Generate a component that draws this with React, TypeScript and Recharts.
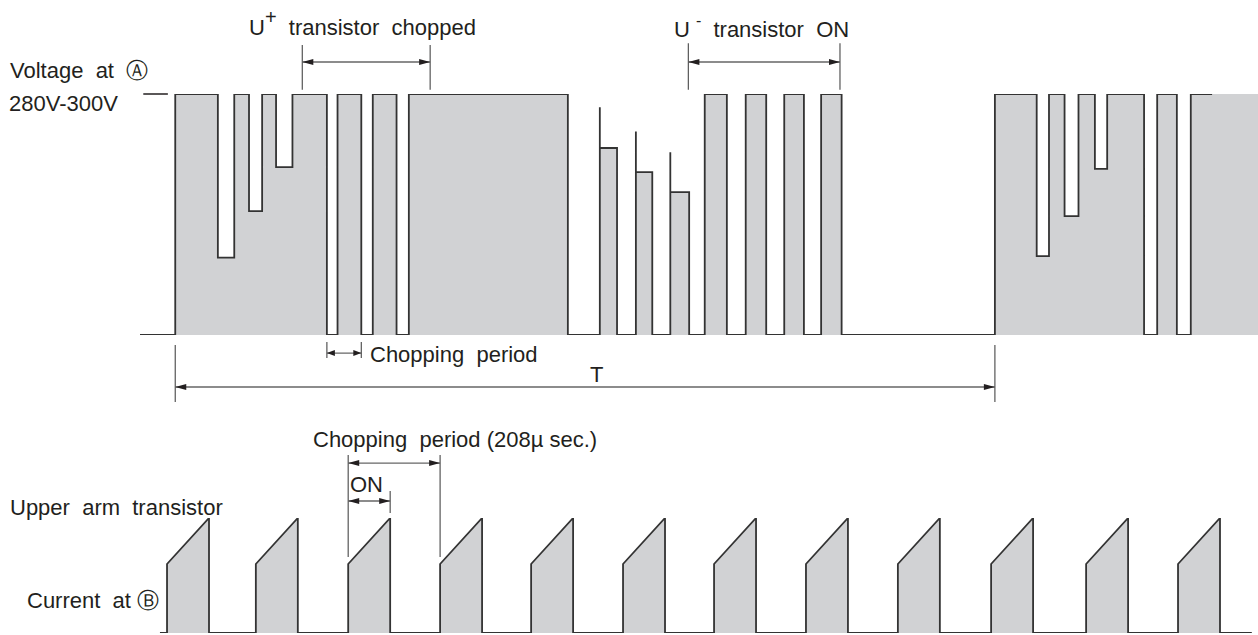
import { Area, ComposedChart, Line, ReferenceLine, XAxis, YAxis } from "recharts";

// voltage at A: time in % of period T, level in volts
const stepStart = [-4.3, 0, 5.2, 7.2, 9.0, 10.6, 12.3, 14.3, 18.5, 19.8, 22.7, 24.1, 27.0, 28.5, 47.9, 51.8, 53.9, 56.2, 58.2, 60.4, 62.7, 64.6, 67.3, 69.6, 72.1, 74.3, 76.7, 78.8, 81.3, 100, 105.1, 106.6, 108.5, 110.2, 112.2, 113.7, 118.2, 119.8, 122.2, 123.9];
const stepLevel = [0, 290, 93, 290, 149, 290, 202, 290, 0, 290, 0, 290, 0, 290, 0, 225, 0, 196, 0, 172, 0, 290, 0, 290, 0, 290, 0, 290, 0, 290, 95, 290, 143, 290, 200, 290, 0, 290, 0, 290];
const spikeTimes = [51.8, 56.2, 60.4];
const spikeLevels = [274, 245, 220];
const lineEnd = 126.5;
const fillEnd = 132.1;

// current at B: time in micro seconds, current relative to peak
const pulseStarts = [0, 201, 410, 618, 824, 1032, 1238, 1446, 1654, 1865, 2080, 2288];
const onTime = 95;
const rampStart = 0.6;
const rampPeak = 1;
const baseStart = -16;
const baseEnd = 2455;

const font = "'Liberation Sans', Arial, sans-serif";
const ink = "#231f20";
const wave = "#333";
const gray = "#d1d2d4";

function voltagePoints(end: number) {
  const pts: { t: number; v: number }[] = [];
  stepStart.forEach((t, i) => {
    if (i > 0) pts.push({ t, v: stepLevel[i - 1] });
    const s = spikeTimes.indexOf(t);
    if (s >= 0) pts.push({ t, v: spikeLevels[s] });
    pts.push({ t, v: stepLevel[i] });
  });
  pts.push({ t: end, v: stepLevel[stepLevel.length - 1] });
  return pts;
}

function currentPoints() {
  const pts: { t: number; i: number }[] = [{ t: baseStart, i: 0 }];
  pulseStarts.forEach((s) => {
    pts.push({ t: s, i: 0 }, { t: s, i: rampStart }, { t: s + onTime, i: rampPeak }, { t: s + onTime, i: 0 });
  });
  pts.push({ t: baseEnd, i: 0 });
  return pts;
}

const dimArrow = (head: number) => (props: any) => {
  const { x1, y1, x2, y2 } = props;
  const a = Math.min(x1, x2);
  const b = Math.max(x1, x2);
  return (
    <g>
      <line x1={a} y1={y1} x2={b} y2={y2} stroke="#666" strokeWidth={1.3} />
      <polygon points={`${a},${y1} ${a + head},${y1 - 3} ${a + head},${y1 + 3}`} fill={ink} />
      <polygon points={`${b},${y2} ${b - head},${y2 - 3} ${b - head},${y2 + 3}`} fill={ink} />
    </g>
  );
};

const tick = (x: number, y1: number, y2: number, id: string) => (
  <ReferenceLine key={id} segment={[{ x, y: y1 }, { x, y: y2 }]} stroke="#555" strokeWidth={1.2} ifOverflow="visible" />
);

const txt = { fontFamily: font, fontSize: 22, fill: ink, whiteSpace: "pre" as const };

export default function App() {
  const vLine = voltagePoints(lineEnd);
  const vFill = voltagePoints(fillEnd);
  const cur = currentPoints();
  const p3 = pulseStarts[2];
  const p4 = pulseStarts[3];
  return (
    <div style={{ position: "absolute", left: 0, top: 0, width: 1258, height: 635, background: "#fff" }}>
      <ComposedChart width={1258} height={410} margin={{ top: 94, right: 0, left: 140, bottom: 75 }}>
        <XAxis type="number" dataKey="t" domain={[-4.3, fillEnd]} hide allowDataOverflow />
        <YAxis type="number" domain={[0, 290]} hide allowDataOverflow />
        <Area data={vFill} dataKey="v" type="linear" fill={gray} fillOpacity={1} stroke="none" baseValue={0} isAnimationActive={false} />
        <Line data={vLine} dataKey="v" type="linear" stroke={wave} strokeWidth={1.8} dot={false} isAnimationActive={false} />
        <ReferenceLine segment={[{ x: -3.9, y: 290 }, { x: -0.9, y: 290 }]} stroke={ink} strokeWidth={1.5} ifOverflow="visible" />
        <ReferenceLine segment={[{ x: 15.5, y: 328.5 }, { x: 31.1, y: 328.5 }]} shape={dimArrow(11)} ifOverflow="visible" />
        {tick(15.5, 349, 295, "u1")}
        {tick(31.1, 349, 295, "u2")}
        <ReferenceLine segment={[{ x: 62.6, y: 328.5 }, { x: 81.1, y: 328.5 }]} shape={dimArrow(11)} ifOverflow="visible" />
        {tick(62.6, 351, 295, "d1")}
        {tick(81.1, 351, 295, "d2")}
        <ReferenceLine segment={[{ x: 18.5, y: -21.7 }, { x: 22.7, y: -21.7 }]} shape={dimArrow(8)} ifOverflow="visible" />
        {tick(18.5, -8.4, -27.7, "c1")}
        {tick(22.7, -8.4, -27.7, "c2")}
        <ReferenceLine segment={[{ x: 0, y: -62.6 }, { x: 100, y: -62.6 }]} shape={dimArrow(11)} ifOverflow="visible" />
        {tick(0, -12, -80.6, "t1")}
        {tick(100, -12, -80.6, "t2")}
        <text x={10} y={78} style={txt}>Voltage  at  Ⓐ</text>
        <text x={9} y={111} style={txt}>280V-300V</text>
        <text x={249} y={35} style={txt}>
          U<tspan dy={-11} fontSize={20}>+</tspan>
          <tspan dy={11}>  transistor  chopped</tspan>
        </text>
        <text x={674} y={37} style={txt}>
          U<tspan dx={6} dy={-11} fontSize={16}>-</tspan>
          <tspan dy={11}>  transistor  ON</tspan>
        </text>
        <text x={370} y={362} style={txt}>Chopping  period</text>
        <text x={590} y={382} style={txt}>T</text>
      </ComposedChart>
      <ComposedChart width={1258} height={225} margin={{ top: 108, right: 0, left: 0, bottom: 2 }}>
        <XAxis type="number" dataKey="t" domain={[-378, 2469]} hide allowDataOverflow />
        <YAxis type="number" domain={[0, 1]} hide allowDataOverflow />
        <Area data={cur} dataKey="i" type="linear" fill={gray} fillOpacity={1} stroke={wave} strokeWidth={1.8} baseValue={0} isAnimationActive={false} />
        <ReferenceLine segment={[{ x: p3, y: 1.478 }, { x: p4, y: 1.478 }]} shape={dimArrow(11)} ifOverflow="visible" />
        {tick(p3, 1.548, 0.661, "p1")}
        {tick(p4, 1.548, 0.661, "p2")}
        <ReferenceLine segment={[{ x: p3, y: 1.148 }, { x: p3 + onTime, y: 1.148 }]} shape={dimArrow(11)} ifOverflow="visible" />
        {tick(p3 + onTime, 1.235, 1.043, "o1")}
        <text x={313} y={37} style={txt}>Chopping  period (208µ sec.)</text>
        <text x={350} y={82} style={txt}>ON</text>
        <text x={10} y={105} style={txt}>Upper  arm  transistor</text>
        <text x={27} y={198} style={txt}>Current  at Ⓑ</text>
      </ComposedChart>
    </div>
  );
}
